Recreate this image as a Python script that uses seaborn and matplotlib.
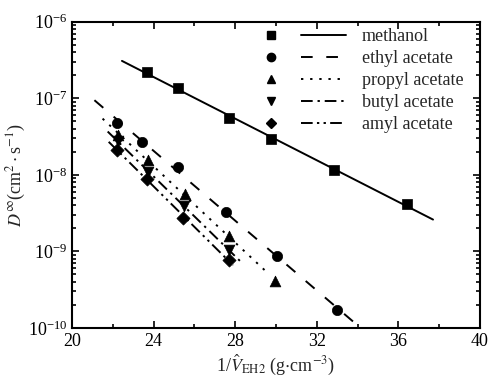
import numpy as np
import matplotlib
matplotlib.use("Agg")
import matplotlib.pyplot as plt
from matplotlib.lines import Line2D
from matplotlib.legend_handler import HandlerTuple
from matplotlib.ticker import FixedLocator, LogLocator, NullFormatter
import seaborn as sns

# data (x = 1/V_EH2 in g/cm3, y = D in cm2/s)
names = ["methanol", "ethyl acetate", "propyl acetate", "butyl acetate", "amyl acetate"]
x_methanol = [23.7, 25.2, 27.7, 29.75, 32.85, 36.4]
y_methanol = [2.23e-7, 1.35e-7, 5.5e-8, 2.9e-8, 1.17e-8, 4.2e-9]
x_ethyl = [22.2, 23.45, 25.2, 27.55, 30.05, 33.0]
y_ethyl = [4.8e-8, 2.7e-8, 1.26e-8, 3.3e-9, 8.6e-10, 1.74e-10]
x_propyl = [22.28, 23.71, 25.53, 27.7, 29.95]
y_propyl = [3.3e-8, 1.55e-8, 5.7e-9, 1.58e-9, 4.1e-10]
x_butyl = [22.28, 23.71, 25.48, 27.7]
y_butyl = [2.75e-8, 1.1e-8, 3.9e-9, 1.05e-9]
x_amyl = [22.23, 23.68, 25.45, 27.7]
y_amyl = [2.1e-8, 8.8e-9, 2.74e-9, 7.7e-10]
# x extent of each fitted line
fit_range = [(22.45, 37.7), (21.1, 34.2), (21.5, 29.6), (21.75, 28.4), (21.8, 27.9)]
y_ticks = [1e-10, 1e-9, 1e-8, 1e-7, 1e-6]

xs = [x_methanol, x_ethyl, x_propyl, x_butyl, x_amyl]
ys = [y_methanol, y_ethyl, y_propyl, y_butyl, y_amyl]
markers = ["s", "o", "^", "v", "D"]
msizes = [55, 55, 60, 60, 45]
styles = ["-", (0, (6, 7)), (0, (1.2, 3.5)), (0, (6, 2.5, 1.2, 2.5)), (0, (6, 2.2, 1.2, 2.2, 1.2, 2.2))]

sns.set_style("ticks")
plt.rcParams["font.family"] = ["Liberation Serif", "DejaVu Serif"]
plt.rcParams["mathtext.fontset"] = "stix"

fig = plt.figure(figsize=(4.88, 3.85), dpi=100)
ax = fig.add_axes([0.1475, 0.148, 0.836, 0.7956])

handles = []
for name, x, y, m, s, ls, (x0, x1) in zip(names, xs, ys, markers, msizes, styles, fit_range):
    b, a = np.polyfit(x, np.log10(y), 1)
    xf = np.array([x0, x1])
    yf = 10 ** (a + b * xf)
    sns.lineplot(x=xf, y=yf, ax=ax, color="black", lw=1.4, ls=ls)
    sns.scatterplot(x=x, y=y, ax=ax, marker=m, s=s, color="black", edgecolor="black", linewidth=0.5, zorder=3)
    hm = Line2D([], [], marker=m, color="black", ls="none", markersize=6 if m != "D" else 5)
    hl = Line2D([], [], color="black", lw=1.4, ls=ls)
    handles.append((hm, hl))

ax.set_yscale("log")
ax.set_xlim(20, 40)
ax.set_ylim(1e-10, 1e-6)
ax.xaxis.set_major_locator(FixedLocator([20, 24, 28, 32, 36, 40]))
ax.xaxis.set_minor_locator(FixedLocator([22, 26, 30, 34, 38]))
ax.yaxis.set_major_locator(FixedLocator(y_ticks))
ax.yaxis.set_minor_locator(LogLocator(base=10, subs=np.arange(2, 10), numticks=10))
ax.yaxis.set_minor_formatter(NullFormatter())
ax.tick_params(which="both", direction="in", top=True, right=True, width=1.2, labelsize=13, colors="black")
ax.tick_params(which="major", length=5)
ax.tick_params(which="minor", length=3)
for sp in ax.spines.values():
    sp.set_linewidth(1.5)
    sp.set_color("black")

ax.set_xlabel(r"1/$\hat{V}_{\mathrm{EH2}}$ (g$\cdot$cm$^{-3}$)", fontsize=13, labelpad=2)
ax.set_ylabel(r"$D^{\infty}$(cm$^{2}\cdot$s$^{-1}$)", fontsize=13, labelpad=0)

ax.legend(handles=handles, labels=names, loc="upper right", bbox_to_anchor=(0.96, 0.98),
          frameon=False, fontsize=13, handlelength=5.4, handletextpad=0.9, labelspacing=0.28,
          borderpad=0, borderaxespad=0,
          handler_map={tuple: HandlerTuple(ndivide=None, pad=0.42)})

fig.savefig("out.png", dpi=100)
